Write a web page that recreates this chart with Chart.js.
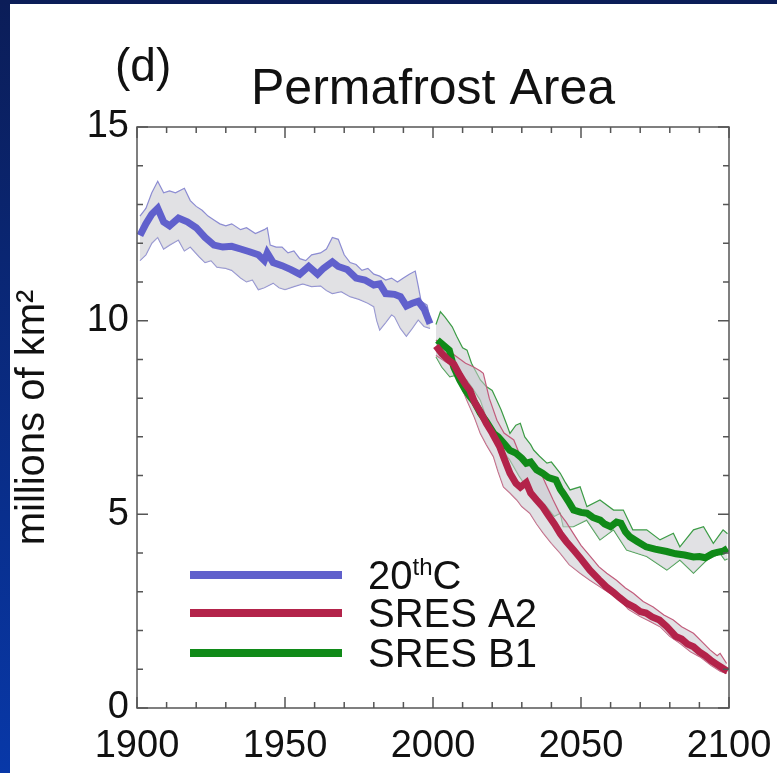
<!DOCTYPE html>
<html>
<head>
<meta charset="utf-8">
<script src="https://cdn.jsdelivr.net/npm/chart.js@4.4.1/dist/chart.umd.min.js"></script>
<style>
  html, body { margin: 0; padding: 0; background: #0a2a80; }
  canvas { display: block; }
</style>
</head>
<body>
<canvas id="js-canvas-permafrost" width="777" height="773"></canvas>
<script>
// values: [year, millions of km2]
const histMean = [
  [1901, 12.2], [1903, 12.5], [1905, 12.75], [1907, 12.9], [1909, 12.55], [1911, 12.45],
  [1914, 12.65], [1917, 12.55], [1920, 12.4], [1923, 12.15], [1926, 11.95], [1929, 11.9],
  [1932, 11.92], [1935, 11.85], [1938, 11.78], [1941, 11.7], [1943, 11.55], [1944, 11.75],
  [1946, 11.5], [1949, 11.42], [1952, 11.32], [1955, 11.2], [1958, 11.4], [1961, 11.2],
  [1963, 11.35], [1966, 11.52], [1968, 11.4], [1971, 11.32], [1974, 11.1], [1977, 11.05],
  [1980, 10.92], [1982, 10.95], [1984, 10.7], [1987, 10.68], [1989, 10.62], [1991, 10.38],
  [1993, 10.45], [1995, 10.5], [1997, 10.3], [1999, 9.92]
];
const histUpper = [
  [1901, 12.7], [1903, 12.9], [1905, 13.3], [1907, 13.6], [1909, 13.3], [1911, 13.35],
  [1913, 13.3], [1916, 13.42], [1918, 13.1], [1920, 12.95], [1922, 12.85], [1924, 12.7],
  [1926, 12.6], [1928, 12.5], [1930, 12.45], [1932, 12.5], [1935, 12.35], [1937, 12.4],
  [1940, 12.25], [1943, 12.35], [1944, 12.4], [1945, 11.95], [1947, 11.9], [1949, 11.9],
  [1951, 11.75], [1953, 11.8], [1955, 11.6], [1957, 11.55], [1959, 11.7], [1962, 11.75],
  [1964, 11.85], [1966, 12.15], [1968, 12.1], [1970, 11.7], [1972, 11.5], [1974, 11.45],
  [1976, 11.3], [1978, 11.35], [1980, 11.2], [1982, 11.15], [1984, 11.05], [1986, 11.1],
  [1988, 11.0], [1990, 11.1], [1992, 11.2], [1994, 11.28], [1995, 10.9], [1996, 10.5],
  [1998, 10.4], [1999, 10.05]
];
const histLower = [
  [1901, 11.55], [1903, 11.7], [1905, 12.0], [1907, 12.15], [1909, 11.85], [1911, 11.95],
  [1914, 12.08], [1916, 11.8], [1918, 11.9], [1921, 11.65], [1923, 11.5], [1925, 11.55],
  [1927, 11.38], [1930, 11.35], [1932, 11.3], [1935, 11.1], [1937, 11.0], [1939, 11.05],
  [1941, 10.8], [1943, 10.85], [1946, 10.97], [1948, 10.85], [1950, 10.8], [1953, 10.88],
  [1956, 10.95], [1959, 10.88], [1962, 10.9], [1964, 10.78], [1966, 10.7], [1969, 10.75],
  [1972, 10.62], [1975, 10.55], [1978, 10.45], [1980, 10.36], [1981, 10.0], [1982, 9.76],
  [1984, 9.95], [1986, 10.15], [1987, 10.1], [1989, 9.8], [1991, 9.6], [1993, 9.8],
  [1995, 10.02], [1997, 9.85], [1999, 9.8]
];

const a2Mean = [
  [2001, 9.35], [2003, 9.15], [2005, 9.0], [2007, 8.88], [2009, 8.6], [2011, 8.35],
  [2012.5, 8.2], [2014, 7.9], [2016, 7.65], [2018, 7.35], [2020, 7.1], [2022.5, 6.75],
  [2024, 6.45], [2026, 6.06], [2028, 5.8], [2029.5, 5.7], [2031.5, 5.82], [2033, 5.55],
  [2035, 5.37], [2037, 5.2], [2038.5, 5.03], [2041, 4.75], [2043, 4.5], [2045, 4.3],
  [2047.5, 4.08], [2050, 3.85], [2053, 3.56], [2056, 3.32], [2058.5, 3.13], [2061, 2.98],
  [2063, 2.85], [2065.5, 2.7], [2068, 2.6], [2070, 2.49], [2072, 2.45], [2074, 2.35],
  [2076.5, 2.27], [2079, 2.1], [2082, 1.85], [2084, 1.78], [2086, 1.65], [2088, 1.58],
  [2090, 1.45], [2092, 1.35], [2094, 1.22], [2096, 1.12], [2098, 1.02], [2099.5, 0.95]
];
const a2Upper = [
  [2001, 9.5], [2004, 9.3], [2008, 9.07], [2011, 8.9], [2013.6, 8.81], [2016, 8.7],
  [2017, 8.64], [2019, 8.0], [2021.6, 7.43], [2024, 7.1], [2027.3, 6.92], [2029, 6.6],
  [2031.6, 6.4], [2034, 6.3], [2036, 6.15], [2038, 5.8], [2040.6, 5.37], [2043, 5.0],
  [2045, 4.8], [2047.4, 4.51], [2050, 4.2], [2054.2, 3.82], [2056, 3.65], [2058.7, 3.48],
  [2062, 3.3], [2065, 3.1], [2067.7, 2.96], [2071, 2.75], [2074.4, 2.61], [2078, 2.4],
  [2081.2, 2.27], [2084, 2.1], [2088, 1.93], [2091, 1.7], [2093.6, 1.5], [2096, 1.35],
  [2097, 1.41], [2099.2, 1.15]
];
const a2Lower = [
  [2001, 9.11], [2004, 8.95], [2006.9, 8.81], [2009, 8.4], [2011.4, 7.95], [2014, 7.5],
  [2016, 7.09], [2018, 6.8], [2020.4, 6.49], [2022, 6.1], [2023.8, 5.71], [2026, 5.55],
  [2028.3, 5.37], [2030, 5.2], [2032.7, 5.03], [2035, 4.75], [2037.3, 4.51], [2040, 4.25],
  [2043, 3.99], [2046, 3.7], [2049.7, 3.48], [2053, 3.3], [2056.4, 3.13], [2060, 2.95],
  [2063.2, 2.79], [2066, 2.55], [2070, 2.36], [2073, 2.25], [2076.7, 2.1], [2080, 1.85],
  [2083.4, 1.67], [2087, 1.45], [2090.2, 1.32], [2094, 1.1], [2097, 0.95], [2099.2, 0.89]
];

const b1Mean = [
  [2001.5, 9.5], [2003, 9.4], [2005.5, 9.24], [2007, 8.8], [2009, 8.47], [2011, 8.2],
  [2012.5, 8.04], [2014, 7.9], [2016, 7.61], [2018, 7.4], [2020.5, 7.09], [2022, 7.0],
  [2024, 6.83], [2026, 6.65], [2028, 6.58], [2030, 6.45], [2031.5, 6.32], [2033, 6.35],
  [2035, 6.15], [2037, 6.06], [2039, 5.95], [2041.5, 5.89], [2043, 5.65], [2044, 5.54],
  [2046, 5.3], [2047.5, 5.11], [2050, 5.05], [2052, 5.03], [2054, 4.92], [2056.5, 4.85],
  [2058, 4.75], [2060, 4.68], [2062, 4.8], [2063.5, 4.77], [2065, 4.55], [2066.5, 4.42],
  [2069, 4.3], [2072, 4.16], [2075, 4.1], [2079, 4.04], [2082, 3.98], [2085, 3.95],
  [2088, 3.9], [2090, 3.91], [2092, 3.88], [2094.5, 3.99], [2096, 4.02], [2098, 4.05],
  [2099.5, 4.12]
];
const b1Upper = [
  [2001, 9.9], [2002.5, 10.23], [2004, 10.1], [2006.5, 9.84], [2008, 9.6], [2010, 9.3],
  [2011.5, 9.24], [2013, 8.9], [2016, 8.47], [2018, 8.3], [2020, 8.2], [2021.5, 7.95],
  [2023, 7.7], [2025, 7.3], [2026, 7.09], [2028, 7.3], [2029.5, 7.35], [2031, 7.0],
  [2033, 6.8], [2034, 6.66], [2036, 6.5], [2038.5, 6.32], [2040, 6.35], [2043, 6.06],
  [2044.5, 5.85], [2046.3, 5.63], [2049.7, 5.71], [2052, 5.2], [2056.4, 5.37], [2061, 5.11],
  [2064.3, 5.11], [2067.5, 4.6], [2072.2, 4.6], [2076.7, 4.34], [2081.2, 4.51], [2083.4, 4.16],
  [2088, 4.6], [2091.4, 4.68], [2094.7, 4.25], [2098, 4.6], [2099.5, 4.5]
];
const b1Lower = [
  [2001, 9.07], [2003, 8.8], [2005.7, 8.55], [2008, 8.6], [2011.4, 8.47], [2013, 8.3],
  [2016, 7.95], [2018, 7.5], [2020.4, 6.92], [2023, 6.7], [2026, 6.4], [2029, 6.0],
  [2031.6, 5.71], [2035, 5.45], [2038.4, 5.2], [2041, 4.95], [2043, 5.03], [2044, 4.68],
  [2047.4, 4.68], [2051.9, 4.85], [2056.4, 4.34], [2061, 4.6], [2065.4, 4.08], [2072.2, 3.91],
  [2079, 3.56], [2083.4, 3.82], [2088, 3.48], [2092.5, 3.82], [2097, 3.99], [2098.6, 3.82],
  [2099.5, 3.85]
];

const seriesLabels = ['20thC', 'SRES A2', 'SRES B1'];
const xTickStep = 50;
const yTickStep = 5;

const FONT = '"Liberation Sans", Arial, Helvetica, sans-serif';
const BLUE = '#6060cc';
const RED = '#b3234a';
const GREEN = '#108a18';
const BAND_FILL = 'rgba(200, 200, 206, 0.55)';

function pts(arr) {
  return arr.map(p => ({ x: p[0], y: p[1] }));
}

function band(arr, color, fill) {
  return {
    data: pts(arr),
    borderColor: color,
    borderWidth: 1.2,
    backgroundColor: BAND_FILL,
    fill: fill,
    order: 1
  };
}

function mean(arr, label, color) {
  return {
    label: label,
    data: pts(arr),
    borderColor: color,
    borderWidth: 7,
    fill: false,
    order: 0
  };
}

// blue frame round the white panel
const framePlugin = {
  id: 'frame',
  beforeDraw(chart) {
    const { ctx, width, height } = chart;
    ctx.save();
    const g = ctx.createLinearGradient(0, 0, 0, height);
    g.addColorStop(0, '#0b1d58');
    g.addColorStop(1, '#0838a8');
    ctx.fillStyle = g;
    ctx.fillRect(0, 0, width, height);
    ctx.fillStyle = '#ffffff';
    ctx.fillRect(10, 4, width - 10, height - 4);
    ctx.fillStyle = '#111';
    ctx.font = '46px ' + FONT;
    ctx.textBaseline = 'middle';
    ctx.textAlign = 'left';
    ctx.fillText('(d)', 115, 68);
    ctx.restore();
  }
};

// box with inward ticks on all four sides
const boxPlugin = {
  id: 'box',
  afterDatasetsDraw(chart) {
    const { ctx, chartArea: a, scales } = chart;
    const xs = scales.x, ys = scales.y;
    ctx.save();
    ctx.strokeStyle = '#555';
    ctx.lineWidth = 1.5;
    ctx.strokeRect(a.left, a.top, a.right - a.left, a.bottom - a.top);
    ctx.beginPath();
    for (let yr = xs.min; yr <= xs.max; yr += 10) {
      const px = xs.getPixelForValue(yr);
      const len = yr % 50 === 0 ? 11 : 6;
      ctx.moveTo(px, a.bottom); ctx.lineTo(px, a.bottom - len);
      ctx.moveTo(px, a.top); ctx.lineTo(px, a.top + len);
    }
    for (let v = ys.min; v <= ys.max; v += 1) {
      const py = ys.getPixelForValue(v);
      const len = v % 5 === 0 ? 11 : 6;
      ctx.moveTo(a.left, py); ctx.lineTo(a.left + len, py);
      ctx.moveTo(a.right, py); ctx.lineTo(a.right - len, py);
    }
    ctx.stroke();
    ctx.restore();
  }
};

// legend drawn inside the plot, with a superscript in "20thC"
const legendPlugin = {
  id: 'insideLegend',
  afterDraw(chart) {
    const { ctx } = chart;
    const rows = [
      { color: BLUE, y: 575 },
      { color: RED, y: 613 },
      { color: GREEN, y: 653 }
    ];
    ctx.save();
    ctx.lineWidth = 8;
    rows.forEach((r, i) => {
      ctx.strokeStyle = r.color;
      ctx.beginPath();
      ctx.moveTo(190, r.y);
      ctx.lineTo(342, r.y);
      ctx.stroke();
      ctx.fillStyle = '#111';
      ctx.textBaseline = 'middle';
      ctx.textAlign = 'left';
      ctx.font = '40px ' + FONT;
      const tx = 368, ty = r.y + 3;
      if (i === 0) {
        ctx.fillText('20', tx, ty);
        let w = ctx.measureText('20').width;
        ctx.font = '24px ' + FONT;
        ctx.fillText('th', tx + w, ty - 10);
        w += ctx.measureText('th').width;
        ctx.font = '40px ' + FONT;
        ctx.fillText('C', tx + w, ty);
      } else {
        ctx.fillText(seriesLabels[i], tx, ty);
      }
    });
    ctx.restore();
  }
};

const ctx = document.getElementById('js-canvas-permafrost');
new Chart(ctx, {
  type: 'line',
  data: {
    datasets: [
      band(histUpper, '#8c8cd2', '+1'),
      band(histLower, '#8c8cd2', false),
      band(a2Upper, '#c25c7c', '+1'),
      band(a2Lower, '#c25c7c', false),
      band(b1Upper, '#3c9c46', '+1'),
      band(b1Lower, '#3c9c46', false),
      mean(histMean, seriesLabels[0], BLUE),
      mean(a2Mean, seriesLabels[1], RED),
      mean(b1Mean, seriesLabels[2], GREEN)
    ]
  },
  options: {
    responsive: false,
    animation: false,
    elements: {
      point: { radius: 0 },
      line: { tension: 0 }
    },
    layout: { padding: { left: 0, right: 48, top: 0, bottom: 0 } },
    plugins: {
      legend: { display: false },
      tooltip: { enabled: false },
      title: {
        display: true,
        text: 'Permafrost Area',
        fullSize: false,
        color: '#111',
        font: { family: FONT, size: 50, weight: 'normal' },
        padding: { top: 60, bottom: 7 }
      }
    },
    scales: {
      x: {
        type: 'linear',
        min: 1900,
        max: 2100,
        grid: { display: false, drawTicks: true, tickLength: 12 },
        border: { display: false },
        ticks: {
          stepSize: xTickStep,
          autoSkip: false,
          maxRotation: 0,
          padding: 4,
          color: '#111',
          font: { family: FONT, size: 38 },
          callback: v => String(v)
        },
        afterFit(s) { s.height = 65; }
      },
      y: {
        min: 0,
        max: 15,
        grid: { display: false, drawTicks: false },
        border: { display: false },
        ticks: {
          stepSize: yTickStep,
          padding: 8,
          color: '#111',
          font: { family: FONT, size: 38 }
        },
        title: {
          display: true,
          text: 'millions of km²',
          color: '#111',
          font: { family: FONT, size: 40 },
          padding: { top: 9, bottom: 0 }
        },
        afterFit(s) { s.width = 137; }
      }
    }
  },
  plugins: [framePlugin, boxPlugin, legendPlugin]
});
</script>
</body>
</html>
